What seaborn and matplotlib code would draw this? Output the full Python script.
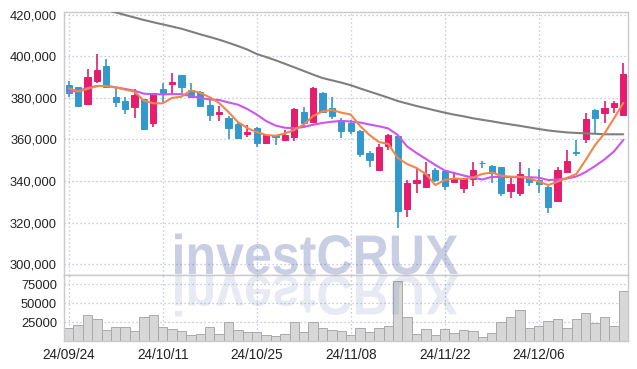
import numpy as np
import pandas as pd
import seaborn as sns
import matplotlib
matplotlib.use("Agg")
import matplotlib.pyplot as plt
from matplotlib.textpath import TextPath
from matplotlib.patches import PathPatch
from matplotlib.font_manager import FontProperties
from matplotlib.transforms import Affine2D
from matplotlib.ticker import FuncFormatter

# ---------------- data ----------------
opens = [386200, 385100, 377100, 388300, 395300, 380400, 378500, 375800, 379300, 367800,
         384300, 386700, 391000, 383800, 382700, 376600, 372100, 370200, 367450, 362500,
         365400, 358200, 362000, 359750, 361350, 373400, 368550, 382500, 375300, 369400,
         368100, 364100, 353350, 345300, 357000, 361700, 326450, 338950, 337300, 345300,
         344850, 339700, 336550, 340850, 348700, 347250, 346600, 335400, 334400, 341800,
         340500, 337300, 330550, 344500, 353800, 360100, 374200, 372900, 375800, 371800]
highs = [388100, 385300, 393700, 401000, 398600, 384800, 380600, 384100, 379600, 382500,
         387000, 391800, 391200, 387000, 383500, 379000, 376100, 371300, 368400, 367000,
         365800, 362400, 362300, 364600, 374900, 375800, 385400, 382800, 380600, 370500,
         369400, 364500, 354450, 357700, 362400, 362000, 340500, 346150, 349300, 346150,
         345300, 343750, 341300, 349300, 349800, 347800, 347000, 342100, 349000, 346150,
         345700, 337600, 346900, 354950, 359750, 372600, 374500, 378650, 378650, 396650]
lows = [380600, 375700, 376800, 387000, 384900, 375800, 372100, 370500, 364600, 366100,
        378200, 381400, 382500, 380200, 375500, 369000, 368900, 360100, 360600, 361350,
        356250, 357900, 357350, 359400, 359250, 365400, 368000, 372750, 369700, 360600,
        362500, 351700, 346900, 345000, 354950, 317300, 322900, 334400, 337000, 339700,
        335700, 338950, 334400, 337650, 346150, 339200, 332800, 331700, 332800, 337650,
        334150, 324500, 330300, 344200, 352050, 358200, 362650, 368100, 372600, 371500]
closes = [382500, 376100, 389900, 393400, 385100, 378200, 374700, 381250, 365000, 382200,
          381700, 387650, 385400, 380600, 376100, 371800, 373400, 365700, 360900, 363750,
          358200, 362150, 361350, 362150, 374700, 368100, 384900, 373400, 371300, 364200,
          364200, 352900, 350150, 356550, 362150, 325750, 339200, 340500, 343400, 340500,
          337650, 341150, 341000, 345300, 348500, 344050, 334150, 338600, 343250, 339700,
          338600, 327400, 345300, 349650, 353500, 369700, 370500, 375000, 377400, 391500]
ma5 = [384600, 383100, 384300, 385700, 385700, 385000, 384000, 383000, 378700, 377400,
       377400, 380000, 380600, 383600, 382400, 380300, 377550, 373200, 368400, 365500,
       363600, 362150, 361800, 362900, 364600, 367200, 371300, 373500, 374200, 372900,
       372000, 366500, 362150, 358800, 357850, 351100, 348200, 346300, 343400, 338100,
       340500, 341250, 341000, 341700, 343400, 344150, 342600, 342100, 342100, 341250,
       339800, 338100, 339700, 341500, 343400, 350150, 357350, 362900, 370100, 377550]
ma20 = [383000, 383450, 384750, 385700, 385800, 385100, 384300, 383450, 382000, 381800,
        381650, 381800, 381800, 380900, 379950, 379250, 379000, 377800, 376750, 374650,
        372000, 368900, 366700, 365650, 365400, 366000, 367100, 367950, 368550, 368900,
        368650, 368150, 367200, 366350, 365300, 362150, 356650, 353500, 350650, 347750,
        345100, 343900, 342700, 341700, 340750, 342000, 342000, 341900, 341850, 341850,
        341650, 340500, 340750, 341250, 342200, 344350, 347250, 350400, 354200, 359750]
ma_long = [427050, 425850, 424650, 423450, 422300, 421100, 419850, 418650, 417450, 416350,
           415350, 414300, 413250, 411900, 410550, 409300, 408000, 406500, 404950, 403250,
           401100, 399650, 398100, 396400, 394700, 392950, 391200, 389550, 388450, 387350,
           386100, 384550, 383050, 381600, 380100, 378500, 377300, 376100, 375050, 373950,
           372900, 371950, 371150, 370200, 369450, 368750, 367950, 367250, 366550, 365800,
           365050, 364350, 363850, 363400, 363150, 362950, 362750, 362500, 362500, 362500]
volume = [17100, 21450, 34600, 28950, 14850, 18400, 18400, 13550, 31600, 34600,
          18400, 16200, 13550, 7900, 9200, 18400, 9600, 25000, 14450, 12250,
          12250, 7900, 6600, 9200, 25000, 12250, 25000, 17100, 14850, 13550,
          7900, 17100, 12250, 17100, 20100, 79350, 31600, 9200, 15800, 7900,
          15800, 10500, 14450, 13150, 5250, 10500, 25000, 31600, 41200, 17100,
          20100, 26300, 28950, 17100, 28950, 36850, 24100, 31600, 20100, 66200]
tick_idx = [0, 10, 20, 30, 40, 50]
tick_labels = ["24/09/24", "24/10/11", "24/10/25", "24/11/08", "24/11/22", "24/12/06"]
price_ticks = [300000, 320000, 340000, 360000, 380000, 400000, 420000]
vol_ticks = [25000, 50000, 75000]

# ---------------- style ----------------
sns.set_theme(style="white")
plt.rcParams['font.family'] = ['Liberation Sans', 'DejaVu Sans']

UP = "#e51d6c"
DOWN = "#3399cc"
GRID = "#b7bfd6"
SPINE = "#c9c9c9"
TXT = "#222222"

W, H = 637, 369
fig = plt.figure(figsize=(W / 100, H / 100), dpi=100)
fig.patch.set_facecolor("white")

ax = fig.add_axes([64 / W, (H - 275) / H, 564 / W, (275 - 12.3) / H])
axv = fig.add_axes([64 / W, (H - 341.3) / H, 564 / W, (341.3 - 275) / H])

df = pd.DataFrame({"i": np.arange(len(opens)), "o": opens, "h": highs, "l": lows,
                   "c": closes, "ma5": ma5, "ma20": ma20, "mal": ma_long, "v": volume})
cols = np.where(df["c"] >= df["o"], UP, DOWN)

# volume
sns.barplot(data=df, x="i", y="v", ax=axv, color="#d7d7d7", saturation=1,
            edgecolor="#a9a9a9", linewidth=0.7, width=1.0, errorbar=None, zorder=2)

# candles
ax.vlines(df["i"], df["l"], df["h"], colors=cols, linewidth=1.2, zorder=3)
body_low = np.minimum(df["o"], df["c"])
body_h = np.abs(df["c"] - df["o"])
ax.bar(df["i"], body_h, bottom=body_low, width=0.68, color=cols, edgecolor=cols,
       linewidth=0.7, zorder=4)

# moving averages
sns.lineplot(data=df, x="i", y="mal", ax=ax, color="#7f7f7f", linewidth=1.5, zorder=5)
sns.lineplot(data=df, x="i", y="ma20", ax=ax, color="#cc55ee", linewidth=1.5, zorder=5)
sns.lineplot(data=df, x="i", y="ma5", ax=ax, color="#f0874a", linewidth=1.5, zorder=6)

for a in (ax, axv):
    a.set_xlim(-0.5, len(opens) - 0.5)
    a.set_xticks(tick_idx)
    a.grid(True, linestyle=(0, (1, 2.2)), color=GRID, linewidth=0.9)
    a.set_axisbelow(True)
    a.set_xlabel("")
    a.set_ylabel("")
    a.tick_params(length=0, pad=5, colors=TXT)
    for s in a.spines.values():
        s.set_color(SPINE)
        s.set_linewidth(1.0)
    a.set_facecolor("white")

ax.set_ylim(294850, 421150)
ax.set_yticks(price_ticks)
ax.yaxis.set_major_formatter(FuncFormatter(lambda v, p: f"{int(v):,}"))
ax.tick_params(axis="x", labelbottom=False)
ax.tick_params(axis="y", labelsize=9.3)

axv.set_ylim(0, 87000)
axv.set_yticks(vol_ticks)
axv.yaxis.set_major_formatter(FuncFormatter(lambda v, p: f"{int(v)}"))
axv.set_xticklabels(tick_labels, fontsize=9.8, color=TXT)
axv.tick_params(axis="y", labelsize=9.3)

# watermark with reflection
fp = FontProperties(family="Liberation Sans", weight="bold")
tp = TextPath((0, 0), "investCRUX", size=1, prop=fp)
ext = tp.get_extents()
x0, x1 = 175, 458
cap = 40
sx = (x1 - x0) / ext.width
sy = cap / 0.716
base = H - 274
tr = Affine2D().scale(sx, sy).translate(x0 - ext.x0 * sx, base)
wm = PathPatch(tp, transform=tr, facecolor=(0.24, 0.31, 0.63), edgecolor="none",
               alpha=0.28, zorder=20)
fig.add_artist(wm)
tr2 = Affine2D().scale(sx, -sy).translate(x0 - ext.x0 * sx, H - 276)
wm2 = PathPatch(tp, transform=tr2, facecolor=(0.24, 0.31, 0.63), edgecolor="none",
                alpha=0.12, zorder=20)
fig.add_artist(wm2)

fig.savefig("out.png", dpi=100)
